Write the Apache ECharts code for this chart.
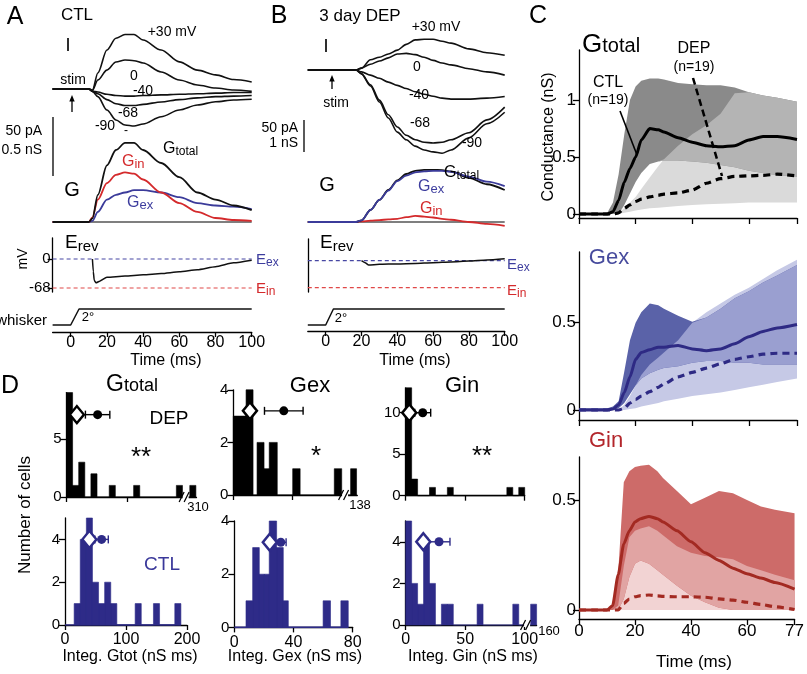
<!DOCTYPE html>
<html><head><meta charset="utf-8">
<script src="https://cdn.jsdelivr.net/npm/echarts@6/dist/echarts.min.js"></script>
<style>html,body{margin:0;padding:0;background:#fff}#c{width:807px;height:674px}</style>
</head><body><div id="c"></div>
<script>
// ---------------- DATA ----------------
// Panel A (CTL) sample times (ms)
const tA = [-10,0,10,12,15,20,25,30,35,40,50,60,70,80,90,100];
const aI30  = [0,0,0,-1,13.6,33,43,46.2,46.2,41.5,33,23,16,12,8,6];
const aI0   = [0,0,0,-1,7.6,16,22.9,24.6,24,22,14.4,7.6,3.4,0.8,-0.8,-2];
const aIm40 = [0,0,0,-2,-2.5,-4.5,-5.5,-6,-6,-5.5,-5,-4.5,-4,-3.5,-3,-3];
const aIm68 = [0,0,0,-2,-4,-9,-12.5,-14,-14,-13,-11,-9,-7.5,-6.5,-6,-5.5];
const aIm90 = [0,0,0,-2,-6.5,-17.8,-26.3,-30.5,-31.4,-29.7,-23.5,-17.8,-13.6,-10.8,-9.3,-8.7];
const aGtot = [0,0,0,0.03,0.23,0.48,0.61,0.67,0.67,0.61,0.5,0.38,0.25,0.19,0.14,0.1];
const aGin  = [0,0,0,0.04,0.19,0.33,0.40,0.42,0.41,0.36,0.25,0.16,0.085,0.034,0.017,0.01];
const aGex  = [0,0,0,0.01,0.085,0.19,0.23,0.25,0.27,0.27,0.25,0.21,0.16,0.14,0.13,0.11];
const tAE   = [12,12.5,13,14,16,20,30,40,50,60,70,80,90,100];
const aErev = [0,-30,-50,-56,-52,-43,-40,-37,-34,-30,-25,-18,-9,-3];
const tWA = [-10,0,4.6,100], wA = [0,0,2,2];
// Panel B (3 day DEP)
const tB = [-10,0,10,17,20,25,30,35,40,45,50,55,60,65,70,80,90,100];
const bI30  = [0,0,0,0,3,16,20,25,31,40,47,48,48,45,42,33,27,23];
const bI0   = [0,0,0,0,3,9,14,19,25,26,24,20,15,11,8,2,-3,-8];
const bIm40 = [0,0,0,0,-3,-8,-13,-19,-24,-29,-34,-38,-41,-44,-45.5,-45.5,-44,-41.5];
const bIm68 = [0,0,0,0,-6,-23,-47,-70,-89,-102,-109,-113,-114,-113,-109,-98,-78,-58];
const bIm90 = [0,0,0,0,-6,-25,-50,-75,-97,-109,-119,-125,-128,-130,-125,-106,-84,-66];
const bGtot = [0,0,0,0,0.05,0.375,0.69,1.0,1.3,1.5,1.6,1.63,1.63,1.62,1.58,1.38,1.18,1.0];
const bGex  = [0,0,0,0,0.05,0.375,0.69,0.98,1.28,1.45,1.55,1.58,1.6,1.6,1.57,1.42,1.26,1.12];
const bGin  = [0,0,0,0,0.02,0.04,0.06,0.08,0.1,0.15,0.19,0.17,0.14,0.1,0.07,0,-0.06,-0.12];
const tBE   = [20,22,24,30,40,50,60,70,80,90,100];
const bErev = [0,-5,-11,-9,-8,-7,-5,-3,-1,2,5];
const tWB = [-10,0,4.3,100], wB = [0,0,2,2];
// Panel C (population averages)
const tC = [0,5,10,12,14,16,18,20,22,25,28,30,35,40,45,50,55,60,65,70,77];
const gtCtlMean = [0,0,0,0.02,0.12,0.28,0.40,0.50,0.65,0.75,0.74,0.72,0.67,0.63,0.60,0.59,0.60,0.65,0.68,0.68,0.655];
const gtCtlHi   = [0,0,0.01,0.1,0.35,0.7,1.0,1.12,1.17,1.19,1.19,1.18,1.15,1.14,1.13,1.13,1.11,1.07,1.04,1.02,0.985];
const gtCtlLo   = [0,0,0,0,0,0.08,0.18,0.28,0.36,0.44,0.46,0.47,0.47,0.46,0.45,0.43,0.41,0.38,0.36,0.34,0.33];
const gtDepMean = [0,0,0,0,0.01,0.05,0.08,0.11,0.13,0.15,0.165,0.175,0.185,0.21,0.27,0.31,0.33,0.335,0.34,0.35,0.335];
const gtDepHi   = [0,0,0,0,0.01,0.05,0.1,0.15,0.22,0.32,0.42,0.48,0.6,0.7,0.78,0.88,1.06,1.07,1.04,1.02,0.985];
const gtDepLo   = [0,0,0,0,0,0.01,0.02,0.03,0.04,0.05,0.055,0.06,0.07,0.08,0.085,0.09,0.095,0.1,0.1,0.1,0.1];
const gxCtlMean = [0,0,0,0.005,0.03,0.1,0.19,0.29,0.33,0.345,0.36,0.36,0.37,0.35,0.34,0.35,0.38,0.42,0.45,0.47,0.49];
const gxCtlHi   = [0.01,0.01,0.01,0.02,0.05,0.22,0.4,0.5,0.56,0.61,0.6,0.58,0.54,0.505,0.53,0.58,0.64,0.68,0.73,0.77,0.83];
const gxCtlLo   = [0,0,0,0,0.01,0.04,0.09,0.14,0.18,0.21,0.23,0.24,0.25,0.27,0.28,0.28,0.27,0.27,0.26,0.26,0.26];
const gxDepMean = [0,0,0,0,0,0.01,0.04,0.06,0.08,0.105,0.13,0.15,0.19,0.215,0.24,0.265,0.29,0.305,0.32,0.325,0.325];
const gxDepHi   = [0,0,0,0,0,0.03,0.08,0.14,0.2,0.26,0.3,0.33,0.4,0.5,0.56,0.61,0.66,0.7,0.75,0.8,0.86];
const gxDepLo   = [0,0,0,0,0,0,0.005,0.01,0.02,0.03,0.04,0.05,0.065,0.08,0.09,0.1,0.115,0.13,0.145,0.16,0.18];
const giCtlMean = [0,0,0,0.02,0.16,0.30,0.36,0.40,0.415,0.425,0.415,0.40,0.36,0.31,0.26,0.225,0.19,0.165,0.145,0.125,0.095];
const giCtlHi   = [0,0,0,0.02,0.17,0.58,0.63,0.65,0.655,0.66,0.63,0.6,0.54,0.48,0.51,0.54,0.53,0.5,0.47,0.455,0.44];
const giCtlLo   = [0,0,0,0,0,0.05,0.15,0.21,0.225,0.21,0.18,0.16,0.11,0.065,0.035,0.01,0,0,0,0,0];
const giDepMean = [0,0,0,0,0,0.03,0.05,0.06,0.065,0.068,0.064,0.062,0.06,0.06,0.058,0.05,0.045,0.035,0.025,0.015,0.002];
const giDepHi   = [0,0,0,0,0.02,0.2,0.33,0.36,0.37,0.38,0.36,0.34,0.29,0.26,0.245,0.24,0.23,0.2,0.18,0.16,0.135];
const giDepLo   = [0,0,0,0,0,0,0,0,0,0,0,0,0,0,0,0,0,0,0,0,0];
const cTicks = [0,20,40,60,77];
// Panel D histograms: [binStart, binEnd, count] (nS ms)
const gtotDepBins = [[0,10,9],[10,20,1],[20,30,3],[40,50,2],[70,80,1],[110,120,1],[180,190,1],[300,310,1]];
const gexDepBins  = [[0,4.3,3],[4.3,8.6,3],[8.6,13.3,4],[16,20.7,2],[20.7,24.2,1],[24.2,29.6,2],[40,45,1],[68,73,1],[134,138,1]];
const ginDepBins  = [[0,5,13],[5,10,2],[20,25,1],[35,40,1],[85,90,1],[95,100,1]];
const gtotCtlBins = [[15,25,1],[25,35,4],[35,45,5],[45,55,2],[55,65,1],[65,75,2],[75,85,1],[115,125,1],[145,155,1],[180,190,1]];
const gexCtlBins  = [[7.9,12.4,1],[12.4,16.9,3],[16.9,20.3,2],[20.3,23.6,2],[23.6,28.6,4],[28.6,33.1,3],[33.1,36.5,1],[60,65,1],[72,77,1]];
const ginCtlBins  = [[0,5,5],[5,10,2],[10,15,1],[15,20,4],[20,25,2],[30,35,1],[35,40,1],[60,65,1],[90,95,1],[155,160,1]];
// [median, mean, sem, y-position]
const gtotDepStat = [17,51,20,7.1];
const gexDepStat  = [11.2,34,13,3.2];
const ginDepStat  = [3,14.3,6.7,10];
const gtotCtlStat = [40,60,11,4];
const gexCtlStat  = [24,31.4,3.6,3.2];
const ginCtlStat  = [14.8,28,9.2,4];

// ---------------- BUILD ----------------
const FONT = '"Liberation Sans", Arial, Helvetica, sans-serif';
const grids=[], xAxes=[], yAxes=[], series=[], graphics=[];
const RED='#d42a2c', BLUE='#3d3d9e', CBLUE='#2e2b88';

function hid(min,max){return {type:'value',min,max,show:false};}
function vis(min,max,ticks,labels,o){
  o=o||{};
  const lab={show:!!labels, fontSize:o.fs||15, color:'#000', fontFamily:FONT, margin:(o.margin!=null?o.margin:4)};
  if(labels) lab.customValues=labels;
  return {type:'value',min,max,show:true,
    axisLine:{show:true,onZero:false,lineStyle:{color:'#000',width:o.lw||1.3}},
    axisTick:{show:ticks.length>0,length:o.tl||5,lineStyle:{color:'#000',width:o.lw||1.3},customValues:ticks},
    axisLabel:lab, splitLine:{show:false}};
}
function panel(b,xa,ya){const i=grids.length;grids.push({left:b[0],top:b[1],width:b[2],height:b[3],containLabel:false});xa.gridIndex=i;ya.gridIndex=i;xAxes.push(xa);yAxes.push(ya);return i;}
function line(i,t,v,color,width,o){series.push(Object.assign({type:'line',xAxisIndex:i,yAxisIndex:i,data:t.map((x,k)=>[x,v[k]]),showSymbol:false,symbol:'none',smooth:0.3,smoothMonotone:'x',silent:true,z:5,lineStyle:{color,width}},o||{}));}
function band(i,t,lo,hi,color,z){
  series.push({type:'custom',xAxisIndex:i,yAxisIndex:i,z,silent:true,data:t.map((x,k)=>[x,lo[k],hi[k]]),encode:{x:0,y:[1,2]},
    renderItem:function(p,api){ if(p.dataIndex!==0) return null; const pts=[];
      for(let k=0;k<t.length;k++) pts.push(api.coord([t[k],hi[k]]));
      for(let k=t.length-1;k>=0;k--) pts.push(api.coord([t[k],lo[k]]));
      return {type:'polygon',shape:{points:pts},style:{fill:color}};}});
}
function cPanel(i,ctlLo,ctlHi,depLo,depHi,ctlMean,depMean,cols){
  const ovLo=ctlLo.map((v,k)=>Math.max(v,depLo[k]));
  const ovHi=ctlHi.map((v,k)=>Math.max(ovLo[k],Math.min(v,depHi[k])));
  band(i,tC,depLo,depHi,cols[2],1);
  band(i,tC,ctlLo,ctlHi,cols[0],2);
  band(i,tC,ovLo,ovHi,cols[1],3);
  line(i,tC,depMean,cols[3],3,{z:6,smooth:0.2,lineStyle:{color:cols[3],width:3.2,type:[7,5]}});
  line(i,tC,ctlMean,cols[3],3,{z:7,smooth:0.2});
}
// histogram drawn as one step polygon (no seams between adjacent bins)
function hist(i,bins,color,brk){
  const d=bins.map(b=>[brk(b[0]),brk(b[1]),b[2]]);
  series.push({type:'custom',xAxisIndex:i,yAxisIndex:i,z:3,silent:true,data:d,encode:{x:[0,1],y:2},
    renderItem:function(p,api){ if(p.dataIndex!==0) return null; const pts=[];
      d.forEach(b=>{pts.push(api.coord([b[0],0]));pts.push(api.coord([b[0],b[2]]));pts.push(api.coord([b[1],b[2]]));pts.push(api.coord([b[1],0]));});
      return {type:'polygon',shape:{points:pts},style:{fill:color,stroke:color,lineWidth:0.6}};}});
}
function stat(i,m,color){
  series.push({type:'custom',xAxisIndex:i,yAxisIndex:i,z:8,silent:true,data:[[m[1]-m[2],m[1]+m[2],m[3]]],encode:{x:[0,1],y:2},
    renderItem:function(p,api){const a=api.coord([api.value(0),api.value(2)]),b=api.coord([api.value(1),api.value(2)]);const st={stroke:color,lineWidth:1.4};
      return {type:'group',children:[{type:'line',shape:{x1:a[0],y1:a[1],x2:b[0],y2:b[1]},style:st},{type:'line',shape:{x1:a[0],y1:a[1]-4,x2:a[0],y2:a[1]+4},style:st},{type:'line',shape:{x1:b[0],y1:b[1]-4,x2:b[0],y2:b[1]+4},style:st}]};}});
  series.push({type:'scatter',xAxisIndex:i,yAxisIndex:i,z:9,silent:true,data:[[m[1],m[3]]],symbol:'circle',symbolSize:9,itemStyle:{color,opacity:1}});
  series.push({type:'scatter',xAxisIndex:i,yAxisIndex:i,z:10,silent:true,data:[[m[0],m[3]]],symbol:'diamond',symbolSize:[14,17],itemStyle:{color:'#ffffff',borderColor:color,borderWidth:2.5,opacity:1}});
}
function brkMark(i,xd){
  series.push({type:'custom',xAxisIndex:i,yAxisIndex:i,z:20,silent:true,data:[[xd,0]],
    renderItem:function(p,api){const c=api.coord([api.value(0),0]);const x=c[0],y=c[1];const st={stroke:'#000',lineWidth:1.3};
      return {type:'group',children:[{type:'rect',shape:{x:x-3.5,y:y-2,width:6,height:4},style:{fill:'#fff'}},{type:'line',shape:{x1:x-7,y1:y+5,x2:x-2,y2:y-5},style:st},{type:'line',shape:{x1:x-2,y1:y+5,x2:x+3,y2:y-5},style:st}]};}});
}
function T(x,y,s,size,o,extra){graphics.push(Object.assign({type:'text',x,y,z:100,silent:true,style:Object.assign({text:s,fontSize:size,fontFamily:FONT,fill:'#000',align:'center',verticalAlign:'middle'},o||{})},extra||{}));}
function SUB(x,base,main,sub,size,subSize,color,drop,wf){
  const w=(wf||0.78)*size;
  T(x,base-0.36*size,main,size,{align:'left',fill:color});
  T(x+w,base+drop-0.36*subSize,sub,subSize,{align:'left',fill:color});
}
function G(type,shape,style){graphics.push({type,shape,style,z:90,silent:true});}

// ---- Panel A ----
let i;
i=panel([52.6,24.1,199.1,112.1],hid(-10,100),hid(-40,55));
[aI30,aI0,aIm40,aIm68,aIm90].forEach(v=>line(i,tA,v,'#111',1.6));
i=panel([52.6,133.5,199.1,100.3],hid(-10,100),hid(-0.1,0.75));
line(i,[-10,100],[0,0],'#000',1.2,{smooth:false});
line(i,tA,aGex,'#3b3b9a',1.8);
line(i,tA,aGin,RED,1.8);
line(i,tA,aGtot,'#111',1.8);
i=panel([52.6,238,199.1,54],hid(-10,100),vis(-77.4,49.2,[0,-68],[0,-68],{fs:15,margin:2}));
line(i,[-10,100],[0,0],'#4747a3',1.2,{smooth:false,lineStyle:{color:'#4747a3',width:1.2,type:[4,3]}});
line(i,[-10,100],[-68,-68],'#e04848',1.2,{smooth:false,lineStyle:{color:'#e04848',width:1.2,type:[4,3]}});
line(i,tAE,aErev,'#111',1.5,{smooth:0.2});
i=panel([52.6,300,199.1,32],vis(-10,100,[0,20,40,60,80,100],[0,20,40,60,80,100],{fs:16,margin:3}),hid(-0.875,3.125));
line(i,tWA,wA,'#111',1.5,{smooth:false});

// ---- Panel B ----
i=panel([307.8,31.6,196.9,128],hid(-10,100),hid(-140,60));
[bI30,bI0,bIm40,bIm68,bIm90].forEach(v=>line(i,tB,v,'#111',1.6));
i=panel([307.8,164.4,196.9,67.2],hid(-10,100),hid(-0.3,1.8));
line(i,[-10,100],[0,0],'#000',1.2,{smooth:false});
line(i,tB,bGin,RED,1.8);
line(i,tB,bGtot,'#111',1.8);
line(i,tB,bGex,'#3b3b9a',1.8);
i=panel([307.8,239,196.9,53],hid(-10,100),vis(-78.8,54.7,[],null,{}));
line(i,[-10,100],[0,0],'#4747a3',1.2,{smooth:false,lineStyle:{color:'#4747a3',width:1.2,type:[4,3]}});
line(i,[-10,100],[-68,-68],'#e04848',1.2,{smooth:false,lineStyle:{color:'#e04848',width:1.2,type:[4,3]}});
line(i,tBE,bErev,'#111',1.5,{smooth:0.2});
i=panel([307.8,300,196.9,31],vis(-10,100,[0,20,40,60,80,100],[0,20,40,60,80,100],{fs:16,margin:3}),hid(-0.75,3.125));
line(i,tWB,wB,'#111',1.5,{smooth:false});

// ---- Panel C ----
i=panel([579,50,218,168],vis(0,77,cTicks,null,{tl:6}),vis(-0.035,1.44,[0,0.5,1],[0,0.5,1],{fs:17,tl:6,margin:3}));
cPanel(i,gtCtlLo,gtCtlHi,gtDepLo,gtDepHi,gtCtlMean,gtDepMean,['#8a8a8a','#b4b4b4','#dadada','#000']);
i=panel([579,252,218,168],vis(0,77,cTicks,null,{tl:6}),vis(-0.0573,0.905,[0,0.5],[0,0.5],{fs:17,tl:6,margin:3}));
cPanel(i,gxCtlLo,gxCtlHi,gxDepLo,gxDepHi,gxCtlMean,gxDepMean,['#5a62a8','#9a9fd0','#c6c9e6','#2e2a84']);
i=panel([579,457,218,162],vis(0,77,cTicks,cTicks,{tl:6,fs:17,margin:4}),vis(-0.041,0.695,[0,0.5],[0,0.5],{fs:17,tl:6,margin:3}));
cPanel(i,giCtlLo,giCtlHi,giDepLo,giDepHi,giCtlMean,giDepMean,['#cd6b69','#e1a4a3','#f2d3d3','#a32a22']);

// ---- Panel D ----
const id=v=>v;
const brk1=v=>v>=250?v-98:v, brk2=v=>v>=100?v-55:v, brk6=v=>v>=150?v-50:v;
const dy={fs:15,tl:6,margin:5}, dx={fs:16,tl:5,margin:7};
i=panel([66.5,392.6,130,104.4],vis(0,213,[0,100],null,dx),vis(0,9,[0,5],[0,5],dy));
hist(i,gtotDepBins,'#000',brk1); brkMark(i,196); stat(i,gtotDepStat,'#000');
i=panel([233.3,389.8,124,105.2],vis(0,83.5,[0,40],null,dx),vis(0,4,[0,2,4],[0,2,4],dy));
hist(i,gexDepBins,'#000',brk2); brkMark(i,75.6); stat(i,gexDepStat,'#000');
i=panel([405.7,387.8,119,107.9],vis(0,100,[0,50,100],null,dx),vis(0,13,[0,5,10],[0,5,10],dy));
hist(i,ginDepBins,'#000',id); stat(i,ginDepStat,'#000');
i=panel([65,518,122,107],vis(0,200,[0,100,200],[0,100,200],dx),vis(0,5,[0,2,4],[0,2,4],dy));
line(i,[0,190],[0,0],CBLUE,1.6,{smooth:false,z:2}); hist(i,gtotCtlBins,CBLUE,id); stat(i,gtotCtlStat,CBLUE);
i=panel([234.3,521,118.4,106.4],vis(0,80,[0,40,80],[0,40,80],dx),vis(0,4,[0,2,4],[0,2,4],dy));
line(i,[0,77],[0,0],CBLUE,1.6,{smooth:false,z:2}); hist(i,gexCtlBins,CBLUE,id); stat(i,gexCtlStat,CBLUE);
i=panel([405.7,521,130.9,104],vis(0,110,[0,50,100],[0,50,100],dx),vis(0,5,[0,2,4],[0,2,4],dy));
hist(i,ginCtlBins,CBLUE,brk6); brkMark(i,102.4); stat(i,ginCtlStat,CBLUE);

// ---------------- TEXT / ANNOTATIONS ----------------
// A
T(15,17,'A',25); T(77,15,'CTL',17); T(68,46,'I',18);
T(172,32,'+30 mV',14); T(134,76,'0',14); T(143,91,'-40',14); T(128,113,'-68',14); T(105,126,'-90',14); T(126,131,'-',12);
T(73,80,'stim',14);
G('line',{x1:72,y1:112,x2:72,y2:99},{stroke:'#000',lineWidth:1.3}); G('polygon',{points:[[72,95],[69.3,101.5],[74.7,101.5]]},{fill:'#000'});
T(42,131,'50 pA',14,{align:'right'}); T(42,150,'0.5 nS',14,{align:'right'});
G('line',{x1:53,y1:117,x2:53,y2:176},{stroke:'#000',lineWidth:1.3});
T(72,190,'G',20);
SUB(163,154,'G','total',16,12,'#000',2);
SUB(122,167,'G','in',16,13,RED,2);
SUB(127,208,'G','ex',16,13,BLUE,2);
SUB(65,250,'E','rev',19,15,'#000',2,0.67);
T(23,259,'mV',14,{},{rotation:Math.PI/2});
SUB(256,265,'E','ex',15,12,BLUE,2,0.67); SUB(256,294,'E','in',15,12,RED,2,0.67);
T(47,321,'whisker',15,{align:'right'}); T(88,317,'2°',13);
T(166,361,'Time (ms)',16);
// B
T(279,16,'B',25); T(360,16,'3 day DEP',17); T(326,47,'I',18);
T(436,27,'+30 mV',14); T(417,67,'0',14); T(419,95,'-40',14); T(420,123,'-68',14); T(472,143,'-90',14);
T(336,103,'stim',14);
G('line',{x1:332,y1:89,x2:332,y2:79},{stroke:'#000',lineWidth:1.3}); G('polygon',{points:[[332,75],[329.3,81.5],[334.7,81.5]]},{fill:'#000'});
T(298,128,'50 pA',14,{align:'right'}); T(298,143,'1 nS',14,{align:'right'});
G('line',{x1:304,y1:120,x2:304,y2:152},{stroke:'#000',lineWidth:1.3});
T(327,185,'G',20);
SUB(444,178,'G','total',16,12,'#000',2);
SUB(418,192,'G','ex',16,13,BLUE,2);
SUB(420,214,'G','in',16,13,RED,2);
SUB(320,250,'E','rev',19,15,'#000',2,0.67);
SUB(507,270,'E','ex',15,12,BLUE,2,0.67); SUB(507,296,'E','in',15,12,RED,2,0.67);
T(341,318,'2°',13);
T(415,361,'Time (ms)',16);
// C
T(538,16,'C',25);
SUB(582,54,'G','total',26,20,'#000',0);
T(694,49,'DEP',16); T(694,67,'(n=19)',14); T(608,83,'CTL',16); T(608,100,'(n=19)',14);
G('line',{x1:620,y1:111,x2:637,y2:155},{stroke:'#000',lineWidth:1.6});
G('line',{x1:693,y1:78,x2:722,y2:176},{stroke:'#000',lineWidth:2.5,lineDash:[7,4]});
T(549,137,'Conductance (nS)',16,{},{rotation:Math.PI/2});
T(609,258,'Gex',22,{fill:'#474b9d'});
T(606,441,'Gin',22,{fill:'#b3262b'});
T(694,662,'Time (ms)',17);
// D
T(10,386,'D',25);
SUB(106,393,'G','total',23,18,'#000',0);
T(310,386,'Gex',22); T(462,386,'Gin',22);
T(169,419,'DEP',19);
T(141,458,'**',26); T(316,457,'*',26); T(482,457,'**',26);
T(162,565,'CTL',19,{fill:'#3a389a'});
T(25,515,'Number of cells',17,{},{rotation:Math.PI/2});
T(130,657,'Integ. Gtot (nS ms)',16); T(295,657,'Integ. Gex (nS ms)',16); T(473,657,'Integ. Gin (nS ms)',16);
T(198,507,'310',13); T(360,505,'138',13); T(549,631,'160',13);

const chart = echarts.init(document.getElementById('c'), null, {renderer:'canvas'});
chart.setOption({animation:false, backgroundColor:'#fff', textStyle:{fontFamily:FONT},
  grid:grids, xAxis:xAxes, yAxis:yAxes, series, graphic:graphics});
</script></body></html>
